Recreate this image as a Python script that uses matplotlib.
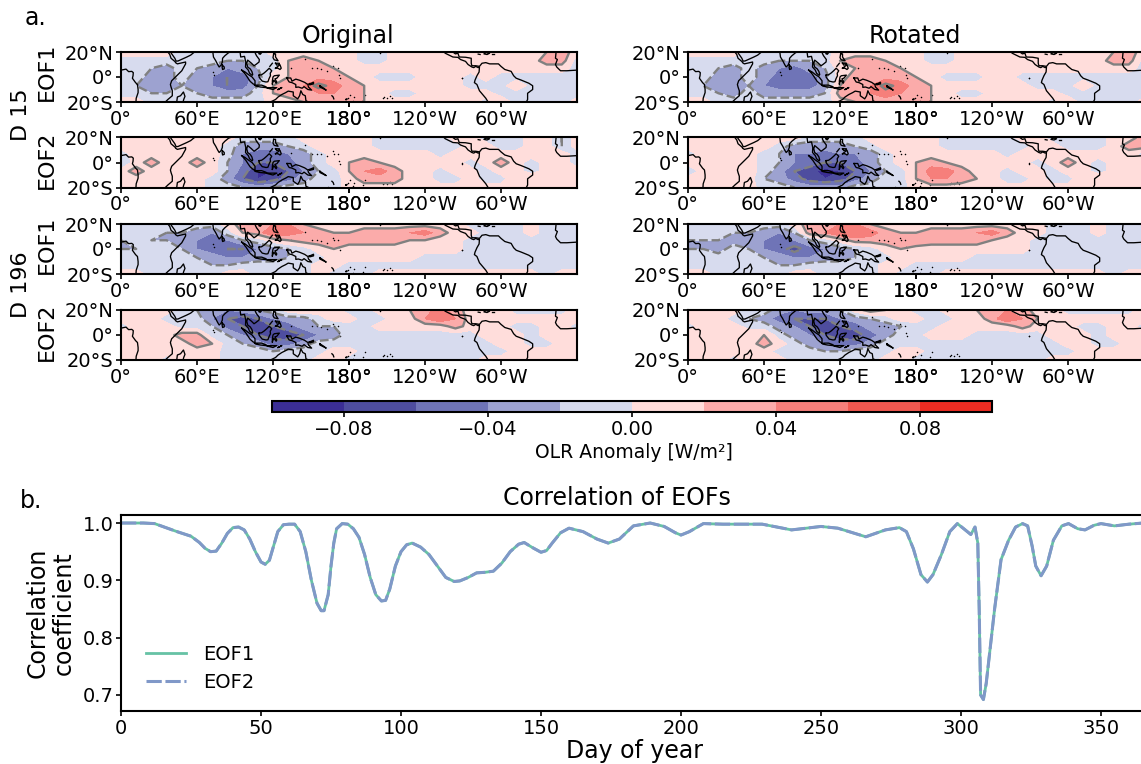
import numpy as np
import matplotlib
matplotlib.use("Agg")
import matplotlib.pyplot as plt

W, H = 1141, 764
LONS = list(range(0, 361, 12))
LATS = [20, 13, 7, 0, -7, -13, -20]

# OLR anomaly in hundredths, rows follow LATS, columns follow LONS
ORIG_D15_EOF1 = [
 [1,1,1,1,-1,-1,-1,-1,-1,-1,1,1,1,1,1,1,-1,-1,1,1,1,1,1,1,1,1,1,1,2,3,1],
 [-1,-1,-1,-1,-1,-1,-1,-2,-2,-1,-1,2,3,2,1,1,-1,-1,1,1,2,1,1,1,1,1,1,1,3,3,-1],
 [-1,-1,-2,-3,-1,-2,-3,-4,-3,-2,-1,2,3,3,2,1,1,1,1,1,1,1,1,1,1,1,1,1,1,1,-1],
 [-1,-1,-3,-3,-1,-3,-4,-6,-5,-3,1,2,3,3,3,2,1,-1,-1,-1,1,1,1,-1,1,-1,-1,-1,-1,-1,-1],
 [-1,-2,-3,-3,-2,-3,-4,-6,-5,-2,2,3,4,7,5,3,2,1,1,1,1,1,1,-1,-1,-1,2,-1,-1,-1,-1],
 [-1,-1,-2,-2,-1,-2,-3,-3,-3,-1,2,3,4,4,4,3,2,1,-1,-1,1,1,1,1,1,-1,-1,-1,-1,-1,-1],
 [1,1,-1,-1,-1,-1,-1,-1,-1,-1,1,1,2,3,3,3,2,1,1,1,1,1,1,1,-1,2,-1,-1,-1,-1,1],
]
ORIG_D15_EOF2 = [
 [1,1,1,1,1,1,1,1,-1,-1,-1,-1,1,1,1,1,1,-1,-1,-1,-1,-1,1,1,-1,-1,-1,1,1,-2,1],
 [1,1,1,1,1,1,1,-1,-3,-3,-3,-2,-1,1,1,1,1,-1,-1,-1,-1,-1,-1,1,1,-1,-1,1,1,-2,1],
 [-1,1,1,1,1,1,1,-1,-4,-5,-5,-4,-3,-1,1,1,1,1,1,1,1,-1,1,1,1,1,1,1,1,1,-1],
 [-2,1,3,1,1,3,1,-2,-4,-6,-6,-5,-3,-1,1,2,3,2,1,1,1,1,1,-1,1,3,1,-1,1,1,-1],
 [1,3,1,1,1,1,1,-2,-5,-8,-8,-6,-4,-2,-1,2,4,5,3,1,1,-1,1,1,-1,1,1,-1,1,1,1],
 [1,1,1,1,1,1,-1,-3,-6,-8,-7,-5,-3,-1,-1,1,3,3,3,1,1,-1,-1,1,-1,-1,2,2,1,1,1],
 [1,1,1,1,1,1,-1,-1,-2,-3,-2,-1,-1,-1,-1,1,1,1,1,1,1,1,1,1,1,1,1,1,1,1,1],
]
ORIG_D196_EOF1 = [
 [-1,-1,-1,-1,-1,-1,-1,1,3,4,4,4,2,1,1,1,1,1,1,1,1,1,1,-1,-1,-1,-1,1,-1,-1,-1],
 [-1,-1,-1,-2,-2,-3,-4,-1,2,3,6,5,4,3,2,2,3,3,3,4,5,3,1,1,-1,-1,-1,1,-1,-1,-1],
 [-2,-1,-2,-2,-2,-4,-6,-4,-2,-1,1,2,3,3,3,3,3,3,3,2,2,1,1,-1,-1,-1,-1,-1,-1,-1,-1],
 [-2,-2,-1,-1,-2,-4,-5,-6,-6,-4,-3,-2,-1,1,2,1,1,1,1,1,1,1,1,-1,-1,-1,-1,-1,-1,-1,-1],
 [-1,-1,-1,-1,-1,-2,-3,-4,-4,-3,-3,-2,-1,-1,1,1,1,1,1,1,-1,-1,-1,-1,-1,-1,-1,-1,-1,-1,-1],
 [-1,-1,-1,-1,-1,-1,-2,-2,-1,-1,-1,-1,-1,1,1,-1,-1,-1,-1,-1,-1,-1,-1,-1,-1,-1,-1,-1,-1,-1,-1],
 [1,1,-1,-1,-1,-1,-1,1,1,-1,-1,-1,-1,1,-1,-1,-1,1,1,1,1,1,1,1,1,1,1,1,-1,1,1],
]
ORIG_D196_EOF2 = [
 [1,1,1,1,-1,-2,-3,-4,-3,-2,-1,1,2,1,1,-1,-1,1,1,2,3,5,3,1,1,1,-1,-1,-1,-1,1],
 [1,1,1,-1,-1,-1,-4,-6,-7,-6,-4,-3,-3,-1,1,1,-1,-1,1,1,4,6,4,1,1,1,1,1,1,1,1],
 [-1,1,1,1,-1,-1,-2,-5,-6,-6,-6,-5,-3,-2,-2,-1,-1,1,1,1,1,1,3,1,1,1,-1,-1,1,1,-1],
 [1,1,1,1,3,3,-1,-2,-4,-6,-7,-7,-6,-4,-3,-1,-1,-1,-1,-1,-1,-1,-1,-1,1,1,1,-1,1,1,1],
 [1,1,1,1,1,3,2,-1,-2,-3,-5,-5,-3,-1,-1,-1,-1,-1,-1,-1,-1,-1,-1,-1,-1,1,1,-1,-1,1,1],
 [1,1,1,1,1,1,1,-1,-1,-1,-2,-1,-1,-1,1,1,-1,-1,-1,-1,-1,-1,-1,-1,-1,-1,1,1,1,1,1],
 [1,1,1,-1,1,1,1,-1,-1,-1,-1,-1,-1,1,1,-1,-1,-1,-1,-1,-1,-1,-1,-1,1,1,1,1,1,1,1],
]
ROT_D15_EOF1 = [
 [1,1,1,1,-1,-1,-1,-1,-1,-1,1,1,1,1,1,1,-1,-1,1,1,1,1,1,1,1,1,1,1,2,3,1],
 [-1,-1,-1,-1,-1,-1,-2,-2,-2,-1,2,3,3,2,1,1,-1,-1,1,2,1,1,1,1,1,1,1,1,3,3,-1],
 [-1,-1,-2,-3,-1,-3,-4,-5,-3,-2,1,2,3,3,2,1,1,1,1,1,1,1,1,1,1,1,1,1,1,1,-1],
 [-1,-1,-3,-3,-1,-3,-5,-6,-5,-3,1,3,3,3,3,2,1,-1,-1,-1,1,1,-1,-1,-1,-1,-1,-1,-1,-1,-1],
 [-1,-2,-3,-3,-2,-4,-5,-5,-5,-3,2,3,4,7,5,3,2,1,1,1,1,1,1,-1,-1,-1,2,-1,-1,-1,-1],
 [-1,-1,-2,-3,-1,-3,-3,-3,-3,-2,3,3,4,5,4,3,2,1,-1,-1,1,1,1,1,1,-1,-1,-1,-1,-1,-1],
 [1,1,-1,-1,-1,-1,-1,-1,-1,-1,1,2,3,3,3,3,2,1,1,1,1,1,1,1,-1,2,-1,-1,-1,-1,1],
]
ROT_D15_EOF2 = [
 [1,1,1,1,1,1,1,1,-1,-1,-1,-1,1,1,1,1,1,-1,-1,-1,-1,-1,1,1,-1,-1,-1,-1,1,1,3],
 [1,1,1,1,1,1,-1,-3,-3,-3,-3,-2,-1,1,1,1,1,-1,-1,-1,-1,-1,-1,1,1,-1,-1,-1,1,3,3],
 [-1,1,1,1,1,-1,-2,-4,-4,-5,-4,-4,-3,-1,1,1,1,1,1,1,1,-1,1,1,1,1,1,1,1,1,-1],
 [1,1,2,1,1,-1,-2,-4,-5,-6,-6,-5,-3,-1,1,2,3,2,1,1,1,1,1,-1,1,3,1,-1,1,1,1],
 [-2,1,1,1,1,-1,-3,-6,-7,-9,-8,-6,-4,-2,-1,2,5,5,3,1,1,-1,1,1,-1,1,1,-1,1,1,1],
 [1,1,1,1,1,-2,-3,-5,-7,-8,-7,-5,-3,-1,-1,2,4,4,3,2,1,-1,-1,1,-1,-1,2,2,1,1,1],
 [1,1,1,1,1,-1,-1,-2,-3,-3,-3,-1,-1,-1,-1,1,1,1,1,1,1,1,1,1,1,1,1,1,1,1,1],
]
ROT_D196_EOF1 = [
 [-1,-1,-1,-1,-1,-1,-1,1,3,4,4,4,2,1,1,1,1,1,1,1,1,1,1,1,-1,-1,-1,1,-1,-1,-1],
 [-1,-1,-1,-2,-2,-3,-4,-2,3,4,6,6,5,3,2,2,3,3,3,4,5,3,1,1,-1,-1,-1,1,-1,-1,-1],
 [-2,-2,-2,-3,-2,-4,-4,-4,-2,-1,1,3,3,3,3,4,3,3,3,3,2,1,1,-1,-1,-1,-1,-1,-1,-1,-1],
 [-2,-2,-3,-1,-2,-4,-5,-7,-5,-4,-3,-2,-1,1,2,1,1,1,1,1,1,1,1,-1,-1,-1,-1,-1,-1,-1,-1],
 [-1,-1,-1,-1,-1,-2,-3,-4,-4,-3,-3,-2,-1,-1,1,1,1,1,1,-1,-1,-1,-1,-1,-1,-1,-1,-1,-1,-1,-1],
 [-1,-1,-1,-1,-1,-1,-2,-2,-1,-1,-1,-1,-1,1,1,-1,-1,-1,-1,-1,-1,-1,-1,-1,-1,-1,-1,-1,-1,-1,-1],
 [1,1,-1,-1,-1,-1,-1,1,1,-1,-1,-1,-1,1,-1,-1,-1,1,1,1,1,1,1,1,1,1,1,1,-1,1,1],
]
ROT_D196_EOF2 = [
 [1,1,1,1,-1,-1,-3,-4,-3,-3,-2,1,3,2,1,-1,-1,1,1,2,3,4,3,1,1,-1,-1,-1,-1,-1,1],
 [1,1,1,-1,-2,-3,-5,-6,-6,-6,-4,-3,-2,-1,1,1,-1,-1,1,1,3,6,4,2,1,1,1,1,1,1,1],
 [-1,1,1,1,-1,-1,-3,-4,-6,-6,-6,-5,-3,-3,-2,-1,-1,1,1,1,1,1,3,1,1,1,-1,-1,1,1,-1],
 [1,1,1,1,2,2,-1,-3,-4,-6,-7,-7,-5,-3,-1,-1,1,1,1,-1,-1,-1,-1,-1,1,1,1,-1,1,1,1],
 [1,1,1,1,1,3,1,-1,-3,-4,-5,-5,-3,-1,-1,-1,-1,-1,-1,-1,-1,-1,-1,-1,-1,1,1,-1,-1,1,1],
 [1,1,1,1,1,1,-1,-1,-1,-2,-2,-1,-1,-1,1,1,-1,-1,-1,-1,-1,-1,-1,-1,-1,-1,1,1,1,1,1],
 [1,1,1,-1,1,1,1,-1,-1,-1,-1,-1,-1,1,1,-1,-1,-1,-1,-1,-1,-1,-1,-1,1,1,1,1,1,1,1],
]

LEVELS = [-10, -8, -6, -4, -2, 0, 2, 4, 6, 8, 10]
LINE_LEVELS = [-6, -2, 2, 6]
FILL_COLORS = ["#3b2e95", "#4e4d9f", "#6f74b7", "#9da2d0", "#d7dbee",
               "#ffdddb", "#fbabaa", "#f67f7b", "#f15850", "#ee2c22"]
CBAR_TICKS = [-8, -4, 0, 4, 8]

# coastlines as (lon, lat) traces
COASTS = [
 [(0,5.5),(4,6.3),(6,4.3),(8.5,4.5),(9.7,3.5),(9.5,1),(9,-1),(11.5,-4.5),(13,-6),(13.5,-10),(13.5,-12.5),(12,-17),(11.8,-20)],
 [(37,20),(38.5,18),(39.5,15),(43,12),(43,11.5),(44.5,10.5),(51,12),(51,10.5),(48,5),(45,2),(42,-1),(40,-3),(39,-6),(39.5,-8),(40.5,-11),(40.5,-15),(37,-18),(35,-20)],
 [(39,20),(42.5,15),(43.5,12.7),(45,12.8),(52,16),(55,17.5),(58,20)],
 [(44,-20),(44.5,-16),(47,-15),(49.3,-12),(50.5,-15.5),(49.5,-18),(49,-20)],
 [(72.5,20),(73,16),(74.8,13),(76.3,10),(77.5,8),(79,9.5),(80,12),(80.2,15),(82,17),(85,19.5),(86.5,20)],
 [(80,9.5),(81.5,8),(81.5,6.5),(80.2,6),(79.8,8),(80,9.5)],
 [(94,20),(94.5,16),(97.5,16.5),(98.5,12),(98.3,8),(100.5,5.5),(101.5,3),(103.5,1.3),(104,2),(103.3,4.5),(102,6.5),(100,8),(99.3,11),(100,13.5),(101,12.7),(103,11),(105,9),(106.5,10),(109,12),(109.2,14),(107,17),(106,19),(106.5,20)],
 [(95.3,5.5),(98,4),(100.5,2),(103.5,0),(105.8,-3),(105.8,-6),(104.5,-5.7),(102,-3.5),(100.3,-1),(98.7,1.5),(95.3,5.5)],
 [(105.5,-6.5),(108.5,-6.5),(111,-6.5),(114.5,-7.8),(114.5,-8.5),(110,-8),(106.5,-7.3),(105.5,-6.5)],
 [(109,1.5),(111,1.8),(113,3.2),(115,5),(117,7),(119,5),(117.8,3),(118,1),(117,-1),(116,-3.8),(114.5,-4),(111.5,-3.3),(110,-1.5),(109,0),(109,1.5)],
 [(119.5,-5.5),(120.5,-2.7),(121,-3),(122.5,-5),(123,-4),(121.5,-1.5),(123,-1),(125,1.5),(121,1),(120,0),(119.5,-3),(119.5,-5.5)],
 [(120.5,18.5),(122,18.5),(122,16),(124,13),(121,13.7),(120,15.5),(120.5,18.5)],
 [(122,7),(125.5,9.8),(126.5,7),(125.5,6),(124,7),(122,7)],
 [(122,11),(125,11),(125,10),(123,9.5),(122,11)],
 [(117.5,8.5),(119.5,11)],
 [(124,-10),(127,-8.4),(125,-9.5),(124,-10)],
 [(115,-8.5),(119,-8.5),(123,-8.5),(120,-10),(116,-9),(115,-8.5)],
 [(131,-0.8),(134,-0.8),(135,-3.3),(138,-1.7),(141,-2.6),(145,-4.3),(147.5,-6),(148,-8),(150.5,-10.5),(147.5,-10),(144.5,-7.7),(143,-9),(140,-8),(138,-8.3),(138,-6),(135,-4.5),(132.8,-4),(132,-2.8),(131,-0.8)],
 [(148.5,-5.7),(152,-4.2),(152,-5.5),(149,-6.3),(148.5,-5.7)],
 [(157,-7),(160,-9),(162,-10.5),(160,-9.5),(157,-8),(157,-7)],
 [(118,-20),(122,-18),(124,-16),(127,-14),(130,-12.5),(132,-11.3),(136,-12),(136,-15),(139.5,-17.5),(141,-15),(142,-11),(143.5,-14),(145.5,-15),(146,-19),(148,-20)],
 [(109,19.5),(111,19.5),(110,18.2),(109,18.5),(109,19.5)],
 [(177.5,-18),(178.5,-17.5),(178,-18.2),(177.5,-18)],
 [(164,-20),(165,-20.5)],
 [(166.5,-15),(167.5,-16),(168,-17.5)],
 [(255,20),(256,19),(262,16),(266,15.7),(268,14),(272,12.5),(274,10),(277,8),(278.5,7.5),(280,8.5),(282,7.5),(283,8),(282.7,4),(281,1),(279.5,-2.5),(279,-4.5),(281,-6),(283,-11),(288,-17),(289.8,-20)],
 [(262,20),(264,18.5),(266,19),(267,16),(272,15.8),(276.5,15),(276.5,11),(277,9),(280,9),(283,8.5),(285,11),(288,11.5),(291,10.5),(298,10.5),(300,8.5),(303,6),(308,4.5),(310,1),(312,-1),(316,-2.5),(322,-5),(325,-7),(325,-10),(321,-13),(321,-18),(320,-20)],
 [(288,19.7),(291,19),(289,18),(286.5,18.5),(288,19.7)],
 [(282,18.3),(283.5,18)],
 [(293,18.3),(294.5,18.3)],
 [(360,5.5),(352,5),(347,5),(344,8),(343,10),(344.5,14),(343,15),(343.5,20)],
]
ISLE_LON = [269,269.5,204.5,172,173,179,181,183,184,190,191,193,207,208,210,212,214,73,73.5,134,145,151,155,158,163,167,168,171]
ISLE_LAT = [-0.5,-1,19.5,1.5,-1,-16.5,-14,-19,-16,-20,-18,-14,-17,-16,-17,-15.5,-17,4,2,7.5,14,7,7,6.5,5,9,7,7]

DAY = [0,8,12,16,20,25,28,30,32,34,36,38,40,42,44,46,48,50,51.5,53,54.5,56,58,60,62,64,66,68,70,71.5,72.5,74,75,76,77,79,81,83,85,87,89,91,93,94.5,96,98,100,102,104,107,110,113,116,119,121,124,127,130,133,136,139,142,144,147,150,152,154,157,160,165,170,174,178,183,189,194,198,200,203,208,215,229,239.5,250,256,266,273,278,280.5,283,285.7,288,290,293,296,298.7,301,303.5,305,306,306.5,307,308,309,312,314.3,317,319.5,322,323.8,325.4,326.7,328.6,330.6,333,336,338.4,341.7,344.3,347.5,350,354.8,360,365]
EOF1 = [1,1,.999,.992,.985,.977,.966,.956,.95,.951,.965,.982,.992,.993,.988,.972,.95,.932,.928,.935,.96,.985,.997,.998,.998,.985,.95,.9,.86,.847,.847,.875,.925,.965,.99,.999,.998,.99,.975,.945,.905,.875,.864,.865,.885,.925,.95,.962,.965,.958,.945,.925,.905,.898,.899,.905,.913,.914,.916,.93,.95,.963,.966,.957,.949,.952,.965,.983,.991,.985,.972,.965,.972,.995,1,.994,.983,.979,.985,.999,.998,.998,.988,.994,.991,.976,.988,.992,.985,.955,.91,.897,.91,.945,.985,.999,.99,.98,.993,.965,.85,.7,.692,.72,.85,.936,.97,.993,.999,.995,.96,.925,.908,.925,.97,.995,.999,.99,.988,.996,.999,.995,.998,1]
EOF2 = list(EOF1)

LON_TICKS = [0, 60, 120, 180, 180, 240, 300]
LON_LABELS = ["0°", "60°E", "120°E", "180°", "180°", "120°W", "60°W"]
LAT_TICKS = [20, 0, -20]
LAT_LABELS = ["20°N", "0°", "20°S"]
DAY_TICKS = [0, 50, 100, 150, 200, 250, 300, 350]
R_TICKS = [0.7, 0.8, 0.9, 1.0]

TICK = 14
LABEL = 17
SPINE = 1.5
plt.rcParams.update({"font.family": "DejaVu Sans", "font.size": TICK,
                     "axes.linewidth": SPINE, "xtick.major.width": 1.2,
                     "ytick.major.width": 1.2, "xtick.major.size": 3.5,
                     "ytick.major.size": 3.5, "xtick.major.pad": 2,
                     "ytick.major.pad": 2})

fig = plt.figure(figsize=(W / 100, H / 100), dpi=100)

def box(x0, y0, x1, y1):
    return [x0 / W, 1 - y1 / H, (x1 - x0) / W, (y1 - y0) / H]

def label(x, y, s, **kw):
    fig.text(x / W, 1 - y / H, s, ha="center", va="center", **kw)

PANELS = [(ORIG_D15_EOF1, ROT_D15_EOF1, 52, 102), (ORIG_D15_EOF2, ROT_D15_EOF2, 137.5, 187.5),
          (ORIG_D196_EOF1, ROT_D196_EOF1, 224, 274), (ORIG_D196_EOF2, ROT_D196_EOF2, 310, 360)]
XSPANS = [(121, 577), (688, 1144)]
for left, right, y0, y1 in PANELS:
    for grid, (x0, x1) in zip((left, right), XSPANS):
        ax = fig.add_axes(box(x0, y0, x1, y1))
        z = np.array(grid)
        ax.contourf(LONS, LATS, z, levels=LEVELS, colors=FILL_COLORS)
        ax.contour(LONS, LATS, z, levels=LINE_LEVELS, colors="#808080", linewidths=1.7,
                   negative_linestyles="dashed")
        for trace in COASTS:
            lo, la = zip(*trace)
            ax.plot(lo, la, color="black", lw=0.95, solid_joinstyle="round")
        ax.scatter(ISLE_LON, ISLE_LAT, s=1.2, color="black", linewidths=0)
        ax.set_xlim(0, 360)
        ax.set_ylim(-20, 20)
        ax.set_xticks(LON_TICKS, LON_LABELS)
        ax.set_yticks(LAT_TICKS, LAT_LABELS)

label(348, 36, "Original", fontsize=LABEL)
label(915, 36, "Rotated", fontsize=LABEL)
label(47, 72, "EOF1", rotation=90, fontsize=LABEL - 1)
label(47, 160, "EOF2", rotation=90, fontsize=LABEL - 1)
label(47, 245, "EOF1", rotation=90, fontsize=LABEL - 1)
label(47, 332, "EOF2", rotation=90, fontsize=LABEL - 1)
label(21, 115, "D 15", rotation=90, fontsize=LABEL - 1)
label(21, 285, "D 196", rotation=90, fontsize=LABEL - 1)
label(35, 18, "a.", fontsize=LABEL)
label(31, 501, "b.", fontsize=LABEL)

cax = fig.add_axes(box(272, 401, 992, 412))
cmap = matplotlib.colors.ListedColormap(FILL_COLORS)
norm = matplotlib.colors.BoundaryNorm(LEVELS, cmap.N)
cbar = fig.colorbar(matplotlib.cm.ScalarMappable(norm=norm, cmap=cmap), cax=cax,
                    orientation="horizontal", ticks=CBAR_TICKS, drawedges=False)
cbar.ax.set_xticklabels([f"{t / 100:.2f}".replace("-", "\u2212") for t in CBAR_TICKS])
cbar.outline.set_linewidth(SPINE)
cbar.ax.minorticks_off()
cbar.ax.tick_params(length=3.5, width=1.2, pad=2)
label(634, 452, "OLR Anomaly [W/m²]", fontsize=13.5)

ax2 = fig.add_axes(box(121, 515, 1143, 711))
ax2.plot(DAY, EOF1, color="#66c2a5", lw=2, label="EOF1")
ax2.plot(DAY, EOF2, color="#8098c8", lw=2.2, ls=(0, (5, 1.2)), label="EOF2")
ax2.set_xlim(0, 365)
ax2.set_ylim(0.672, 1.014)
ax2.set_xticks(DAY_TICKS)
ax2.set_yticks(R_TICKS)
ax2.set_yticklabels([f"{v:.1f}" for v in R_TICKS])
ax2.set_ylabel("Correlation\ncoefficient", fontsize=LABEL, labelpad=5, linespacing=1.1)
label(634, 751, "Day of year", fontsize=LABEL)
label(617, 498, "Correlation of EOFs", fontsize=LABEL)
ax2.legend(loc="lower left", frameon=False, fontsize=TICK, borderaxespad=0,
           labelspacing=0.47, handlelength=2.1, handletextpad=0.85,
           bbox_to_anchor=(0.0165, 0.057))
fig.savefig("out.png", dpi=100)
